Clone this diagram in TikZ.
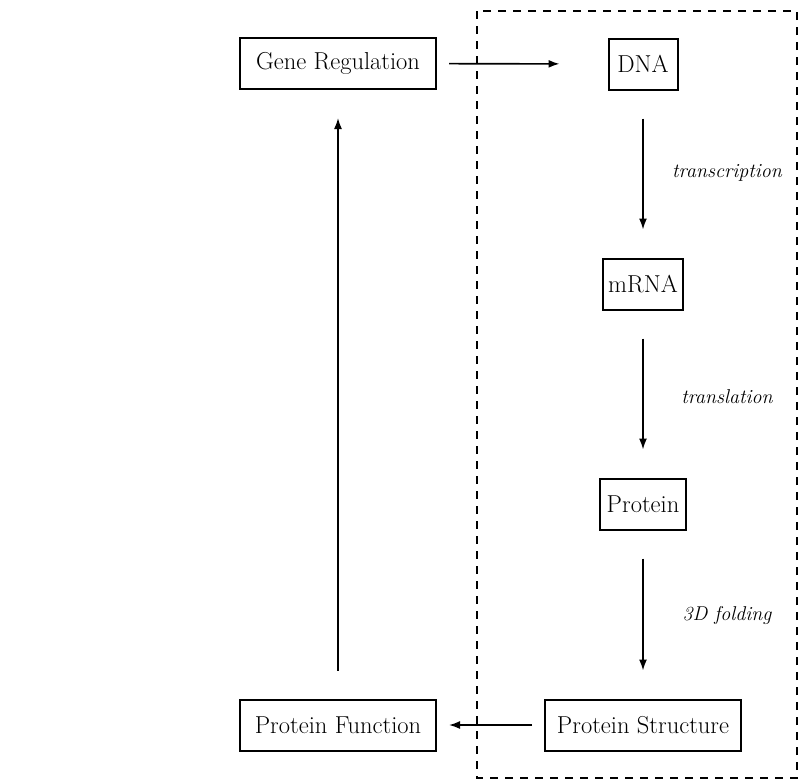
\documentclass[tikz,border=0pt]{standalone}
\usetikzlibrary{arrows.meta}
\begin{document}
\begin{tikzpicture}[x=1pt,y=-1pt,
  box/.style={draw,line width=2pt,inner sep=0pt,minimum height=51pt,font=\fontsize{24.5}{29}\selectfont},
  conn/.style={line width=1.6pt,-{Latex[length=11pt,width=8pt]},shorten <=28pt,shorten >=28pt},
  lab/.style={font=\fontsize{20}{24}\selectfont\itshape}]
\useasboundingbox (0,0) rectangle (803,782);
\draw[line width=1.6pt,dash pattern=on 8pt off 7pt] (477,11) rectangle (797,778);
\node[box,minimum width=196pt] (gr) at (338,63.5) {Gene Regulation};
\node[box,minimum width=69pt] (dna) at (643,64) {DNA};
\node[box,minimum width=80pt] (mrna) at (643,284) {mRNA};
\node[box,minimum width=86pt] (prot) at (643,504) {Protein};
\node[box,minimum width=196pt] (ps) at (643,725) {Protein Structure};
\node[box,minimum width=196pt] (pf) at (338,725) {Protein Function};
\draw[conn,shorten <=12pt,shorten >=48pt] (gr) -- (dna);
\draw[conn] (dna) -- (mrna);
\draw[conn] (mrna) -- (prot);
\draw[conn] (prot) -- (ps);
\draw[conn,shorten <=12pt,shorten >=12pt] (ps) -- (pf);
\draw[conn] (pf) -- (gr);
\node[lab] (l1) at (727,173) {transcription};
\node[lab] (l2) at (727,397) {translation};
\node[lab] (l3) at (727,615) {3D folding};
\end{tikzpicture}
\end{document}
